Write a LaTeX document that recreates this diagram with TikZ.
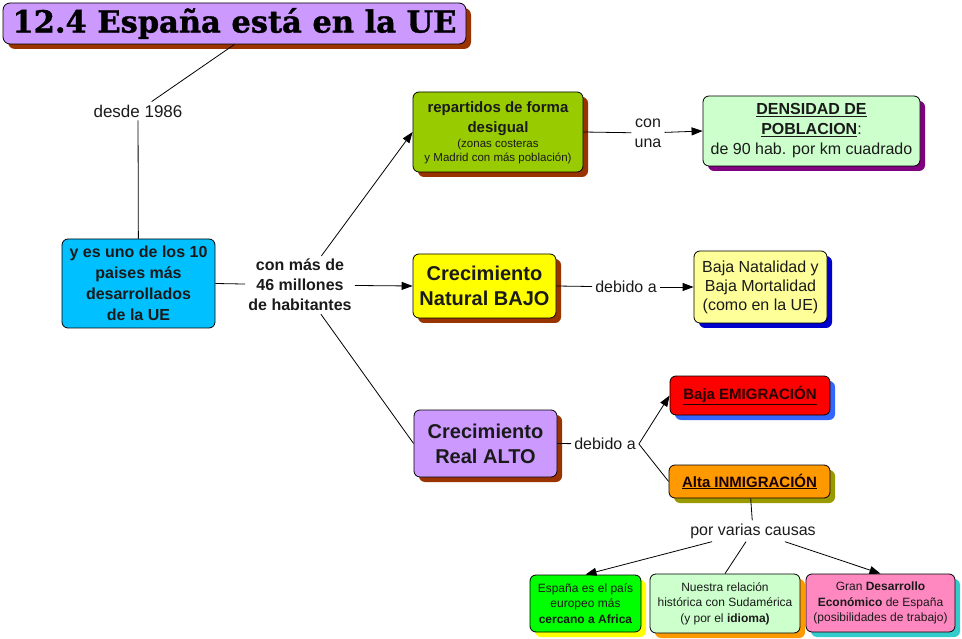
\documentclass[tikz,border=0pt]{standalone}
\usepackage{fontspec}
\setmainfont{Liberation Sans}
\newfontfamily\titlefont{DejaVu Serif}[BoldFeatures={FakeBold=1.2}]
\usetikzlibrary{shadows,arrows.meta}
\definecolor{cTitle}{HTML}{CC99FF}
\definecolor{cBrown}{HTML}{993300}
\definecolor{cBlue}{HTML}{00C0FF}
\definecolor{cOlive}{HTML}{99CC00}
\definecolor{cMint}{HTML}{CCFFCC}
\definecolor{cPurpleSh}{HTML}{800080}
\definecolor{cYellow}{HTML}{FFFF00}
\definecolor{cBeige}{HTML}{FFFF99}
\definecolor{cNavy}{HTML}{0000CC}
\definecolor{cRed}{HTML}{FF0000}
\definecolor{cRoyal}{HTML}{3366FF}
\definecolor{cOrange}{HTML}{FF9900}
\definecolor{cOliveSh}{HTML}{999900}
\definecolor{cLime}{HTML}{00FF00}
\definecolor{cPink}{HTML}{FF88C0}
\definecolor{cTeal}{HTML}{33CCCC}
\definecolor{cText}{HTML}{1A1A1A}
\begin{document}
\begin{tikzpicture}[x=1pt,y=-1pt,
  box/.style={draw=black, line width=0.8pt, rounded corners=6pt, align=center,
    inner sep=0pt, text=cText},
  sh/.style={drop shadow={shadow xshift=5pt, shadow yshift=-5pt, fill=#1, opacity=1}},
  sz/.style n args={2}{minimum width=#1, minimum height=#2},
  lab/.style={inner sep=3pt, align=center, text=cText},
  conn/.style={line width=0.8pt},
  arr/.style={conn, -{Triangle[length=11pt,width=8pt]}},
  fb/.style={font=\fontsize{16}{20}\selectfont\bfseries},
  fr/.style={font=\fontsize{16}{20}\selectfont},
  fs/.style={font=\fontsize{12}{15.5}\selectfont},
]
\useasboundingbox (0,0) rectangle (962,639);

% title
\node[box, sh=cBrown, fill=cTitle, sz={463pt}{41pt}, rounded corners=7pt,
  font=\titlefont\bfseries\fontsize{30.5}{32}\selectfont, text=black]
  (title) at (234.5,23.5) {12.4 España está en la UE};

\node[lab, font=\fontsize{17}{20}\selectfont] (desde) at (138,111) {desde 1986};

\node[box, fill=cBlue, sz={153pt}{89pt}, font=\fontsize{16}{21}\selectfont\bfseries]
  (blue) at (138.5,283.5) {y es uno de los 10\\paises más\\desarrollados\\de la UE};

\node[lab, fb] (conmas) at (300,285) {con más de\\46 millones\\de habitantes};

\node[box, sh=cBrown, fill=cOlive, sz={170pt}{80pt}, font=\fontsize{11.5}{14}\selectfont,
  text depth=-2pt]
  (green) at (498,132)
  {\fontsize{15}{20}\selectfont\bfseries repartidos de forma\\[6pt]
   \fontsize{15}{20}\selectfont\bfseries desigual\\[1pt]
   (zonas costeras\\
   y Madrid con más población)};

\node[lab, fr] (conuna) at (648,133) {con\\una};

\node[box, sh=cPurpleSh, fill=cMint, sz={217pt}{70pt}, fr] (dens) at (811.5,131)
  {\textbf{\underline{DENSIDAD DE}}\\\textbf{\underline{POBLACION}}:\\de 90 hab. por km cuadrado};

\node[box, sh=cBrown, fill=cYellow, sz={143pt}{64pt},
  font=\fontsize{20}{25}\selectfont\bfseries] (yellow) at (484.5,286)
  {Crecimiento\\Natural BAJO};

\node[lab, fr] (deb1) at (626,287) {debido a};

\node[box, sh=cNavy, fill=cBeige, sz={133pt}{72pt}, font=\fontsize{16}{19}\selectfont]
  (beige) at (760.5,287) {Baja Natalidad y\\Baja Mortalidad\\(como en la UE)};

\node[box, sh=cBrown, fill=cTitle, sz={143pt}{67pt},
  font=\fontsize{20}{25}\selectfont\bfseries] (real) at (485.5,443.5)
  {Crecimiento\\Real ALTO};

\node[lab, fr] (deb2) at (605,444) {debido a};

\node[box, sh=cRoyal, fill=cRed, sz={160pt}{39pt}, font=\fontsize{15}{18}\selectfont\bfseries,
  text=black!85!red] (emig) at (750,395.5) {\underline{Baja EMIGRACIÓN}};

\node[box, sh=cOliveSh, fill=cOrange, sz={161pt}{33pt}, font=\fontsize{15}{18}\selectfont\bfseries,
  text=black!90!red] (inmig) at (749.5,481.5) {\underline{Alta INMIGRACIÓN}};

\node[lab, fr] (causas) at (753,531) {por varias causas};

\node[box, sh=cYellow, fill=cLime, sz={111pt}{57pt}, fs] (c1) at (585.5,603.5)
  {España es el país\\europeo más\\\textbf{cercano a Africa}};
\node[box, sh=cOrange, fill=cMint, sz={150pt}{59pt}, fs] (c2) at (725,603.5)
  {Nuestra relación\\histórica con Sudamérica\\(y por el \textbf{idioma)}};
\node[box, sh=cTeal, fill=cPink, sz={149pt}{58pt}, fs] (c3) at (880.5,603)
  {Gran \textbf{Desarrollo}\\\textbf{Económico} de España\\(posibilidades de trabajo)};

% connectors
\draw[conn] (title.south) -- (desde);
\draw[conn] (desde) -- (blue);
\draw[conn] (blue.east) -- (conmas);
\draw[arr] (conmas) -- (green.west);
\draw[arr] (conmas) -- (yellow.west);
\draw[conn] (conmas) -- (real.west);
\draw[conn] (green.east) -- (conuna);
\draw[arr] (conuna) -- (dens.west);
\draw[conn] (yellow.east) -- (deb1);
\draw[arr] (deb1) -- (beige.west);
\draw[conn] (real.east) -- (deb2);
\draw[arr] (deb2.east) -- (emig.west);
\draw[conn] (deb2.east) -- (inmig.west);
\draw[conn] (inmig) -- (causas);
\draw[arr] (causas) -- (c1.north);
\draw[conn] (causas) -- (c2.north);
\draw[arr] (causas) -- (c3.north);
\end{tikzpicture}
\end{document}
